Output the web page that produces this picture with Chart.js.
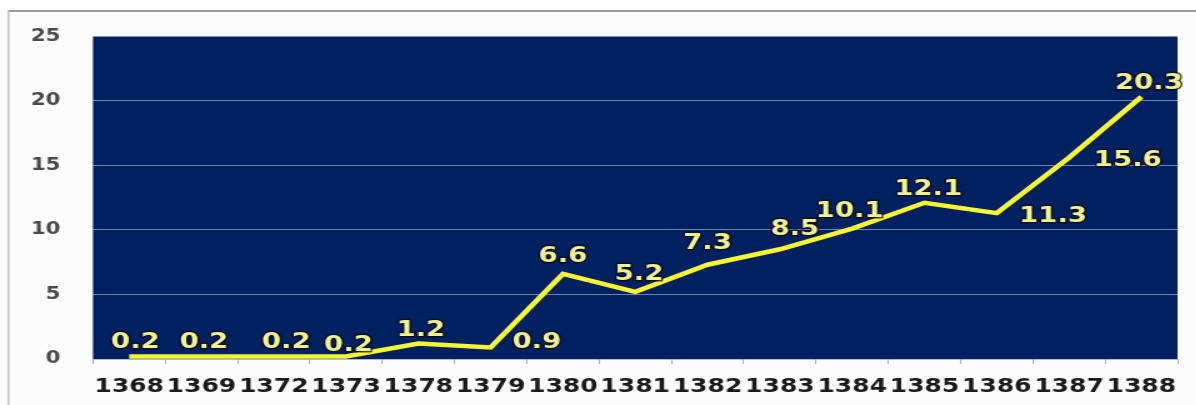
<!DOCTYPE html>
<html>
<head>
<meta charset="utf-8">
<script src="https://cdn.jsdelivr.net/npm/chart.js@4"></script>
<style>
  html, body { margin: 0; padding: 0; background: #ffffff; overflow: hidden; }
  #wrap { width: 957px; height: 405px; transform: scaleX(1.25); transform-origin: 0 0; }
</style>
</head>
<body>
<div id="wrap"><canvas id="myChart" width="957" height="405"></canvas></div>
<script>
var years = ["1368", "1369", "1372", "1373", "1378", "1379", "1380", "1381",
             "1382", "1383", "1384", "1385", "1386", "1387", "1388"];
var values = [0.2, 0.2, 0.2, 0.2, 1.2, 0.9, 6.6, 5.2, 7.3, 8.5, 10.1, 12.1, 11.3, 15.6, 20.3];
var yTicks = [0, 5, 10, 15, 20, 25];

// frame + dark plot background
var backdrop = {
  id: "backdrop",
  beforeDraw: function (chart) {
    var ctx = chart.ctx, a = chart.chartArea;
    ctx.save();
    ctx.fillStyle = "#fcfcfc";
    ctx.fillRect(6.4, 10, chart.width, chart.height);
    ctx.strokeStyle = "#9a9a9a";
    ctx.lineWidth = 2;
    ctx.beginPath();
    ctx.moveTo(6.4, 11);
    ctx.lineTo(chart.width, 11);
    ctx.stroke();
    ctx.strokeStyle = "#c4c4c4";
    ctx.lineWidth = 1.6;
    ctx.beginPath();
    ctx.moveTo(6.8, 11);
    ctx.lineTo(6.8, chart.height);
    ctx.stroke();
    ctx.fillStyle = "#00205f";
    ctx.fillRect(a.left, a.top, a.right - a.left, a.bottom - a.top);
    ctx.restore();
  }
};

// value labels next to each point
var pointLabels = {
  id: "pointLabels",
  afterDatasetsDraw: function (chart, args, opts) {
    var ctx = chart.ctx;
    var meta = chart.getDatasetMeta(0);
    ctx.save();
    ctx.font = "bold 22px 'DejaVu Sans'";
    ctx.textAlign = "center";
    ctx.textBaseline = "middle";
    ctx.lineJoin = "round";
    meta.data.forEach(function (pt, i) {
      var d = opts.offsets[i];
      var txt = values[i].toFixed(1);
      var x = pt.x + d[0], y = pt.y + d[1];
      ctx.strokeStyle = "rgba(10,10,30,0.75)";
      ctx.lineWidth = 3;
      ctx.strokeText(txt, x, y);
      ctx.fillStyle = "#f3f38e";
      ctx.fillText(txt, x, y);
    });
    ctx.restore();
  }
};

var myChart = new Chart(document.getElementById("myChart").getContext("2d"), {
  type: "line",
  data: {
    labels: years,
    datasets: [{
      data: values,
      borderColor: "#f8f832",
      borderWidth: 4.5,
      pointRadius: 0,
      tension: 0,
      fill: false
    }]
  },
  options: {
    responsive: false,
    animation: false,
    layout: { padding: { top: 33, right: 15, left: 0, bottom: 0 } },
    plugins: {
      legend: { display: false },
      tooltip: { enabled: false },
      pointLabels: {
        offsets: [[5, -14], [2, -14], [10, -14], [2, -11], [2, -13], [37, -5], [0, -17], [3, -18],
                  [0, -21], [12, -20], [-2, -17], [3, -13], [45, 3], [47, 3], [6, -14]]
      }
    },
    scales: {
      x: {
        offset: true,
        grid: {
          offset: true,
          drawOnChartArea: false,
          drawTicks: true,
          tickLength: 5,
          tickColor: "#b0b0b0"
        },
        border: { display: false },
        ticks: {
          padding: 11,
          maxRotation: 0,
          autoSkip: false,
          color: "#1a1a1a",
          font: { family: "'DejaVu Sans'", size: 20, weight: "bold" }
        },
        afterFit: function (scale) { scale.height = 46; }
      },
      y: {
        min: 0,
        max: 25,
        afterBuildTicks: function (scale) {
          scale.ticks = yTicks.map(function (v) { return { value: v }; });
        },
        grid: {
          color: "rgba(150,165,210,0.75)",
          lineWidth: 1,
          drawTicks: false
        },
        border: { display: false },
        ticks: {
          padding: 26,
          color: "#4a4a4a",
          font: { family: "'DejaVu Sans'", size: 17, weight: "bold" }
        },
        afterFit: function (scale) { scale.width = 74.4; }
      }
    }
  },
  plugins: [backdrop, pointLabels]
});
</script>
</body>
</html>
